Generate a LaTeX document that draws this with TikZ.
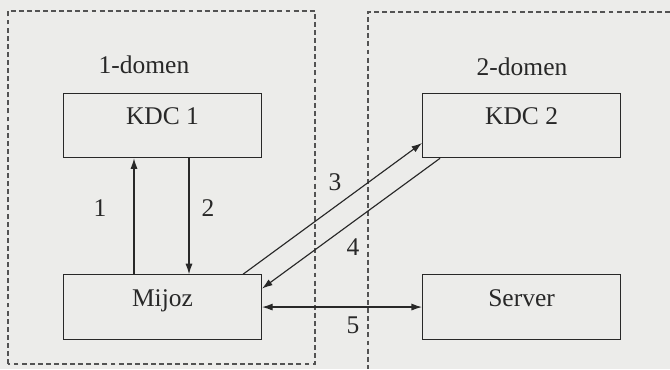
\documentclass[tikz,border=0pt]{standalone}
\usepackage{fontspec}
\setmainfont{Liberation Serif}
\usepackage{tikz}
\usetikzlibrary{arrows.meta,positioning}

\definecolor{paper}{RGB}{236,236,234}
\definecolor{ink}{RGB}{40,40,40}

\begin{document}
\begin{tikzpicture}[
    % Node styles
    hostbox/.style={rectangle, draw=ink, line width=0.6pt, minimum width=3.96cm, minimum height=1.29cm, inner sep=0pt, text=ink, font=\fontsize{14.5}{17}\selectfont, text height=10pt, text depth=11.2pt},
    tag/.style={text=ink, font=\fontsize{14.5}{17}\selectfont, inner sep=1pt},
    % Domain borders
    domainline/.style={line width=0.6pt, draw=ink!80, dash pattern=on 2.8pt off 1.8pt},
    % Message arrows
    msg/.style={line width=0.65pt, draw=ink, -{Latex[length=6pt, width=4pt]}},
    msgboth/.style={line width=0.65pt, draw=ink, {Latex[length=6pt, width=4pt]}-{Latex[length=6pt, width=4pt]}}
]

    % =========================================================================
    % 0. PAGE
    % =========================================================================
    \fill[paper] (0, 0) rectangle (13.4, 7.38);
    \useasboundingbox (0, 0) rectangle (13.4, 7.38);

    % =========================================================================
    % 1. DOMAIN BORDERS
    % =========================================================================
    \draw[domainline] (0.16, 0.10) rectangle (6.30, 7.16);
    \draw[domainline] (13.4, 7.14) -- (7.36, 7.14) -- (7.36, 0);

    \node[tag] (domA) at (2.88, 6.08) {1-domen};
    \node[tag] (domB) at (10.44, 6.04) {2-domen};

    % =========================================================================
    % 2. HOSTS
    % =========================================================================
    \node[hostbox] (kdcA) at (3.25, 4.87) {KDC 1};
    \node[hostbox, below=2.32cm of kdcA] (mijoz) {Mijoz};
    \node[hostbox, right=3.2cm of kdcA] (kdcB) {KDC 2};
    \node[hostbox, below=2.32cm of kdcB] (server) {Server};

    % =========================================================================
    % 3. MESSAGES
    % =========================================================================
    % 1, 2: inside the first domain
    \draw[msg] ([xshift=-0.57cm]mijoz.north) -- ([xshift=-0.57cm]kdcA.south);
    \draw[msg] ([xshift=0.53cm]kdcA.south) -- ([xshift=0.53cm]mijoz.north);
    \node[tag] (nA) at (2.00, 3.22) {1};
    \node[tag] (nB) at (4.16, 3.22) {2};

    % 3, 4: between the domains
    \draw[msg] ([xshift=1.61cm]mijoz.north) -- ([yshift=-0.35cm]kdcB.west);
    \draw[msg] ([xshift=-1.63cm]kdcB.south) -- ([yshift=0.37cm]mijoz.east);
    \node[tag] (nC) at (6.70, 3.74) {3};
    \node[tag] (nD) at (7.06, 2.44) {4};

    % 5: client and server
    \draw[msgboth] (mijoz.east) -- (server.west);
    \node[tag] (nE) at (7.06, 0.88) {5};

\end{tikzpicture}
\end{document}
